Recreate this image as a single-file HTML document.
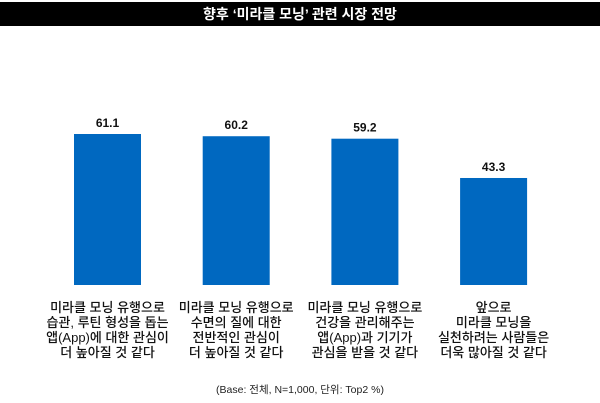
<!DOCTYPE html>
<html><head><meta charset="utf-8"><style>
body{margin:0;width:600px;height:403px;background:#fff;overflow:hidden;font-family:"Liberation Sans","Noto Sans CJK KR",sans-serif;}
#title{position:absolute;left:0;top:2px;width:600px;height:24px;background:#000;color:#fff;font-size:14px;font-weight:bold;text-align:center;line-height:24px;}
.lbl{position:absolute;width:128px;text-align:center;font-size:13px;line-height:15px;color:#111;font-weight:500;}
#note{position:absolute;left:0;width:600px;top:382px;text-align:center;font-size:10.5px;color:#222;}
</style></head><body>
<div id="title">향후 ‘미라클 모닝’ 관련 시장 전망</div>
<svg id="chart" width="600" height="403" style="position:absolute;left:0;top:0"></svg>
<div id="labels"></div>
<div id="note">(Base: 전체, N=1,000, 단위: Top2 %)</div>
<script>
const categories=["미라클 모닝 유행으로<br>습관, 루틴 형성을 돕는<br>앱(App)에 대한 관심이<br>더 높아질 것 같다","미라클 모닝 유행으로<br>수면의 질에 대한<br>전반적인 관심이<br>더 높아질 것 같다","미라클 모닝 유행으로<br>건강을 관리해주는<br>앱(App)과 기기가<br>관심을 받을 것 같다","앞으로<br>미라클 모닝을<br>실천하려는 사람들은<br>더욱 많아질 것 같다"];
const values=[61.1,60.2,59.2,43.3];
const valueLabels=["61.1","60.2","59.2","43.3"];
const ns="http://www.w3.org/2000/svg";
const svg=document.getElementById('chart');
const base=285, scale=151/61.1, x0=107.5, step=128.7, bw=67;
const xc=i=>x0+i*step, y=v=>base-v*scale;
const lab=document.getElementById('labels');
values.forEach((v,i)=>{
 const r=document.createElementNS(ns,'rect');
 r.setAttribute('x',xc(i)-bw/2);r.setAttribute('y',y(v));r.setAttribute('width',bw);r.setAttribute('height',base-y(v));r.setAttribute('fill','#0068c0');
 
 
 svg.appendChild(r);
 const t=document.createElementNS(ns,'text');
 t.setAttribute('x',xc(i));t.setAttribute('y',y(v)-7);t.setAttribute('text-anchor','middle');t.setAttribute('font-size','12');t.setAttribute('font-weight','bold');t.setAttribute('fill','#111');
 t.textContent=valueLabels[i];
 
 
 svg.appendChild(t);
 const d=document.createElement('div');
 d.className='lbl';d.style.left=(xc(i)-64)+'px';d.style.top='300px';d.innerHTML=categories[i];
 
 
 lab.appendChild(d);
});
</script>
</body></html>
